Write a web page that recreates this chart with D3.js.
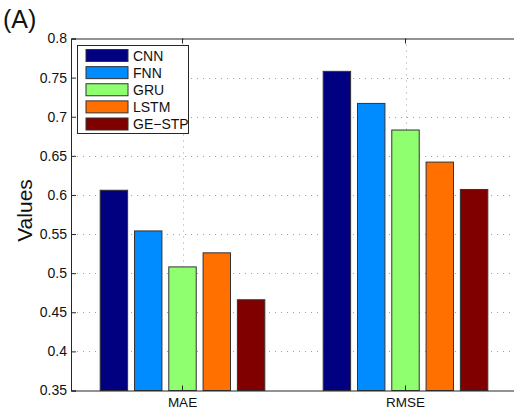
<!DOCTYPE html>
<html>
<head>
<meta charset="utf-8">
<script src="https://cdn.jsdelivr.net/npm/d3@7"></script>
<style>
  html, body { margin: 0; padding: 0; background: #fff; }
  svg { display: block; font-family: "Liberation Sans", Arial, Helvetica, sans-serif; }
</style>
</head>
<body>
<svg id="chart" width="514" height="414"></svg>
<script>
// Error metrics per model
const categories = ["MAE", "RMSE"];
const models = ["CNN", "FNN", "GRU", "LSTM", "GE\u2212STP"];
const maeValues = [0.606, 0.554, 0.508, 0.526, 0.466];
const rmseValues = [0.758, 0.717, 0.683, 0.642, 0.607];
const yTicks = [0.35, 0.4, 0.45, 0.5, 0.55, 0.6, 0.65, 0.7, 0.75, 0.8];
const colors = ["#000080", "#008cff", "#8fff70", "#ff7000", "#800000"];

const seriesByCategory = { MAE: maeValues, RMSE: rmseValues };

const svg = d3.select("#chart");
const margin = { left: 71, top: 38.5, bottom: 390.5, right: 517 };

const x = d3.scaleBand().domain(categories).range([margin.left, margin.right]).padding(0);
const groupWidth = x.bandwidth() * 0.769;
const xInner = d3.scaleBand().domain(models)
  .range([-groupWidth / 2, groupWidth / 2]).paddingInner(0.2).paddingOuter(0.1);
const y = d3.scaleLinear().domain([0.35, 0.8]).range([margin.bottom, margin.top]);

// grid
const grid = svg.append("g").attr("stroke", "#a0a0a0").attr("stroke-width", 1)
  .attr("stroke-dasharray", "1,5");
grid.selectAll("line.h").data(yTicks.slice(1, -1)).join("line")
  .attr("class", "h")
  .attr("x1", margin.left).attr("x2", margin.right)
  .attr("y1", d => Math.round(y(d)) + 0.5).attr("y2", d => Math.round(y(d)) + 0.5);
grid.selectAll("line.v").data(categories).join("line")
  .attr("class", "v")
  .attr("x1", d => Math.round(x(d) + x.bandwidth() / 2) + 0.5)
  .attr("x2", d => Math.round(x(d) + x.bandwidth() / 2) + 0.5)
  .attr("y1", margin.top).attr("y2", margin.bottom);

// bars
const groups = svg.append("g").selectAll("g").data(categories).join("g")
  .attr("transform", d => `translate(${x(d) + x.bandwidth() / 2},0)`);
groups.selectAll("rect")
  .data(c => models.map((m, i) => ({ model: m, value: seriesByCategory[c][i], color: colors[i] })))
  .join("rect")
  .attr("x", d => xInner(d.model))
  .attr("width", xInner.bandwidth())
  .attr("y", d => y(d.value))
  .attr("height", d => y(0.35) - y(d.value))
  .attr("fill", d => d.color)
  .attr("stroke", "#333")
  .attr("stroke-width", 1);

// axes
const yAxis = d3.axisLeft(y).tickValues(yTicks).tickSize(-5).tickPadding(4)
  .tickFormat(d => d3.format("")(+d.toFixed(2)));
const gy = svg.append("g").attr("transform", `translate(${margin.left},0)`).call(yAxis);
gy.select(".domain").attr("stroke", "#262626");
gy.selectAll(".tick line").attr("stroke", "#262626");
gy.selectAll(".tick text").attr("font-size", 14).attr("fill", "#111")
  .attr("font-family", "Liberation Sans, Arial, sans-serif");

const xAxis = d3.axisBottom(x).tickSize(-5).tickPadding(7);
const gx = svg.append("g").attr("transform", `translate(0,${margin.bottom})`).call(xAxis);
gx.select(".domain").attr("stroke", "#262626");
gx.selectAll(".tick line").attr("stroke", "#262626");
gx.selectAll(".tick text").attr("font-size", 13.5).attr("fill", "#111")
  .attr("font-family", "Liberation Sans, Arial, sans-serif");

const xTop = d3.axisTop(x).tickSize(-5).tickFormat("");
const gt = svg.append("g").attr("transform", `translate(0,${margin.top})`).call(xTop);
gt.select(".domain").attr("stroke", "#262626");
gt.selectAll(".tick line").attr("stroke", "#262626");

// y label
svg.append("text")
  .attr("transform", `translate(32,${(margin.top + margin.bottom) / 2 - 4}) rotate(-90)`)
  .attr("text-anchor", "middle")
  .attr("font-size", 21).attr("fill", "#111")
  .text("Values");

// panel label
svg.append("text").attr("x", 3).attr("y", 28)
  .attr("font-size", 25).attr("fill", "#111").text("(A)");

// legend
const legend = svg.append("g");
legend.append("rect").attr("x", 77.5).attr("y", 45.5).attr("width", 111).attr("height", 88)
  .attr("fill", "#fff").attr("stroke", "#262626").attr("stroke-width", 1);
const rowY = d3.scalePoint().domain(models).range([55.5, 124]);
const items = legend.selectAll("g.item").data(models).join("g").attr("class", "item")
  .attr("transform", d => `translate(0,${rowY(d)})`);
items.append("rect").attr("x", 86).attr("y", -6).attr("width", 42).attr("height", 12)
  .attr("fill", (d, i) => colors[i]).attr("stroke", "#333").attr("stroke-width", 1);
items.append("text").attr("x", 133).attr("y", 5).attr("font-size", 14).attr("fill", "#111")
  .text(d => d);
</script>
</body>
</html>
